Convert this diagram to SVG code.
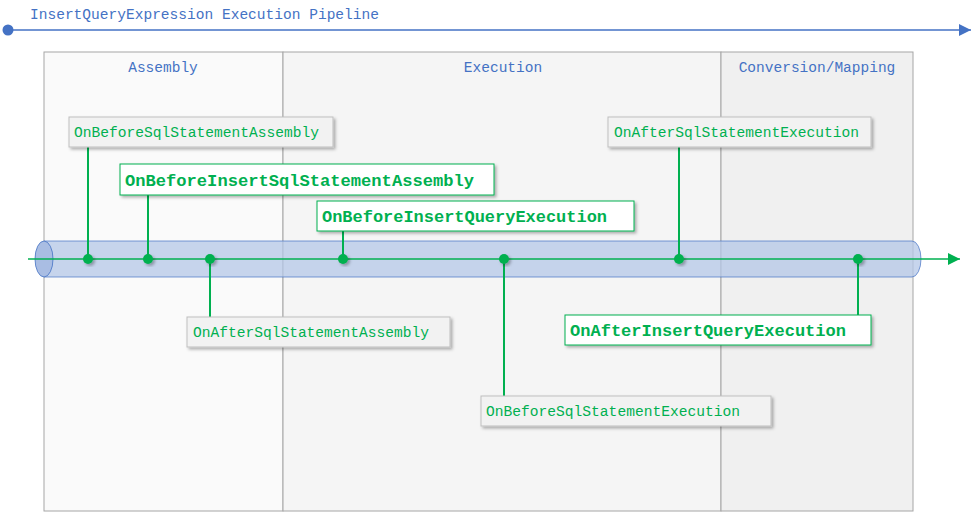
<svg xmlns="http://www.w3.org/2000/svg" width="973" height="512" viewBox="0 0 973 512">
<defs>
<style>
.t{font-family:"Liberation Mono","DejaVu Sans Mono",monospace;}
.hdr{font-size:14.5px;fill:#4472C4;}
.ev{font-size:14.5px;fill:#00B050;}
.evb{font-size:17px;font-weight:bold;fill:#00B050;}
.phase{stroke:#a6a6a6;stroke-width:1;}
.gbox{fill:#f2f2f2;stroke:#bfbfbf;stroke-width:1;}
.wbox{fill:#ffffff;stroke:#00B050;stroke-width:1;}
.stem{stroke:#00B050;stroke-width:2;}
.dot{fill:#00B050;}
</style>
<filter id="sh" x="-10%" y="-30%" width="120%" height="160%">
<feDropShadow dx="2" dy="2" stdDeviation="1.5" flood-color="#000" flood-opacity="0.3"/>
</filter>
<marker id="ab" markerWidth="12" markerHeight="12" refX="10" refY="5" orient="auto" markerUnits="userSpaceOnUse" viewBox="0 0 10 10">
<path d="M0,0 L10,5 L0,10 Z" fill="#4472C4"/>
</marker>
<marker id="ag" markerWidth="12" markerHeight="12" refX="10" refY="5" orient="auto" markerUnits="userSpaceOnUse" viewBox="0 0 10 10">
<path d="M0,0 L10,5 L0,10 Z" fill="#00B050"/>
</marker>
</defs>
<rect width="973" height="512" fill="#ffffff"/>

<g id="timeline">
<circle cx="8" cy="30" r="5.5" fill="#4472C4"/>
<line x1="8" y1="30" x2="971" y2="30" stroke="#4472C4" stroke-width="1.3" marker-end="url(#ab)"/>
<text class="t hdr" x="30" y="19" textLength="349" lengthAdjust="spacingAndGlyphs">InsertQueryExpression Execution Pipeline</text>
</g>

<g id="phase-assembly">
<rect class="phase" x="44" y="52" width="239" height="459" fill="#fafafa"/>
<text class="t hdr" x="163" y="72" text-anchor="middle">Assembly</text>
</g>
<g id="phase-execution">
<rect class="phase" x="283" y="52" width="438" height="459" fill="#f5f5f5"/>
<text class="t hdr" x="503" y="72" text-anchor="middle">Execution</text>
</g>
<g id="phase-conversion">
<rect class="phase" x="721" y="52" width="192" height="459" fill="#f0f0f0"/>
<text class="t hdr" x="817" y="72" text-anchor="middle">Conversion/Mapping</text>
</g>

<g id="pipe">
<path d="M44,241 L912,241 A9,18 0 0 1 912,277 L44,277 Z" fill="#b4c7e7" fill-opacity="0.75" stroke="#4472C4" stroke-width="1" stroke-opacity="0.7"/>
<ellipse cx="44" cy="259" rx="9" ry="18" fill="#a9bde3" stroke="#4472C4" stroke-width="1" stroke-opacity="0.8"/>
</g>

<g id="connectors">
<line x1="28" y1="259" x2="960" y2="259" stroke="#00B050" stroke-width="1.3" marker-end="url(#ag)"/>
<line class="stem" x1="88" y1="147" x2="88" y2="259"/>
<line class="stem" x1="148" y1="195" x2="148" y2="259"/>
<line class="stem" x1="343" y1="231" x2="343" y2="259"/>
<line class="stem" x1="679" y1="147" x2="679" y2="259"/>
<line class="stem" x1="210" y1="259" x2="210" y2="317"/>
<line class="stem" x1="504" y1="259" x2="504" y2="396"/>
<line class="stem" x1="858" y1="259" x2="858" y2="315"/>
<g filter="url(#sh)">
<circle class="dot" cx="88" cy="259" r="5"/>
<circle class="dot" cx="148" cy="259" r="5"/>
<circle class="dot" cx="210" cy="259" r="5"/>
<circle class="dot" cx="343" cy="259" r="5"/>
<circle class="dot" cx="504" cy="259" r="5"/>
<circle class="dot" cx="679" cy="259" r="5"/>
<circle class="dot" cx="858" cy="259" r="5"/>
</g>
</g>

<g id="OnBeforeSqlStatementAssembly">
<rect class="gbox" x="69" y="117" width="264" height="30" filter="url(#sh)"/>
<text class="t ev" x="74" y="137" textLength="245" lengthAdjust="spacingAndGlyphs">OnBeforeSqlStatementAssembly</text>
</g>
<g id="OnBeforeInsertSqlStatementAssembly">
<rect class="wbox" x="120" y="164" width="374" height="31" filter="url(#sh)"/>
<text class="t evb" x="125" y="186" textLength="349" lengthAdjust="spacingAndGlyphs">OnBeforeInsertSqlStatementAssembly</text>
</g>
<g id="OnBeforeInsertQueryExecution">
<rect class="wbox" x="317" y="201" width="317" height="30" filter="url(#sh)"/>
<text class="t evb" x="322" y="222" textLength="285" lengthAdjust="spacingAndGlyphs">OnBeforeInsertQueryExecution</text>
</g>
<g id="OnAfterSqlStatementExecution">
<rect class="gbox" x="608" y="117" width="263" height="30" filter="url(#sh)"/>
<text class="t ev" x="614" y="137" textLength="245" lengthAdjust="spacingAndGlyphs">OnAfterSqlStatementExecution</text>
</g>
<g id="OnAfterSqlStatementAssembly">
<rect class="gbox" x="187" y="317" width="263" height="30" filter="url(#sh)"/>
<text class="t ev" x="193" y="337" textLength="236" lengthAdjust="spacingAndGlyphs">OnAfterSqlStatementAssembly</text>
</g>
<g id="OnAfterInsertQueryExecution">
<rect class="wbox" x="565" y="315" width="306" height="30" filter="url(#sh)"/>
<text class="t evb" x="570" y="336" textLength="276" lengthAdjust="spacingAndGlyphs">OnAfterInsertQueryExecution</text>
</g>
<g id="OnBeforeSqlStatementExecution">
<rect class="gbox" x="481" y="396" width="290" height="30" filter="url(#sh)"/>
<text class="t ev" x="486" y="416" textLength="254" lengthAdjust="spacingAndGlyphs">OnBeforeSqlStatementExecution</text>
</g>
</svg>
